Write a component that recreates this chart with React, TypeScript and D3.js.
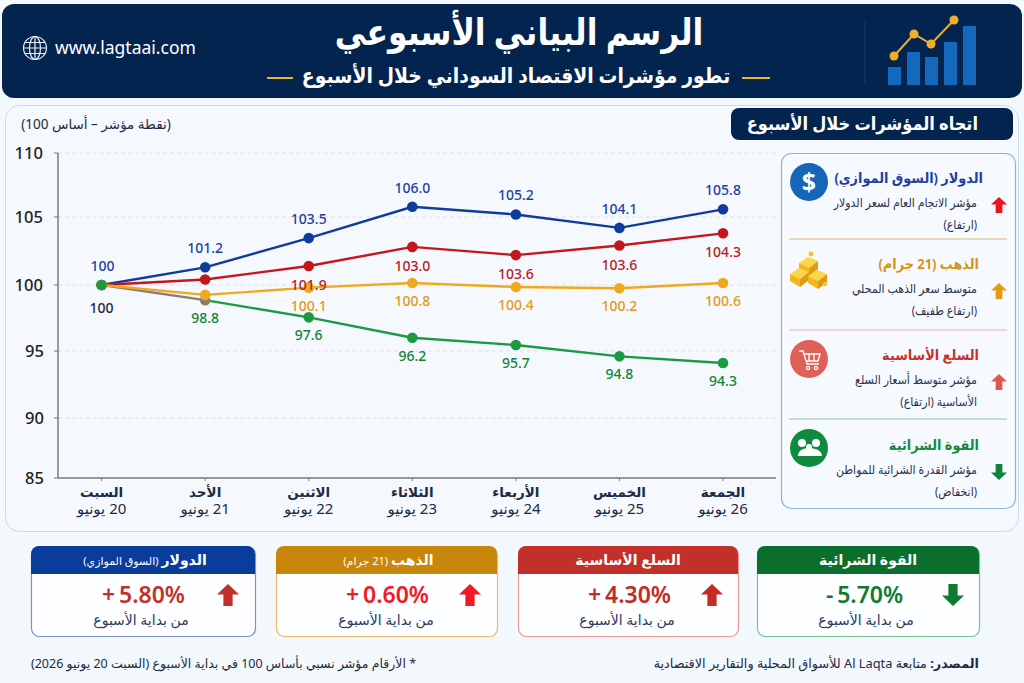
import React from 'react';
import * as d3 from 'd3';

const days = ['السبت','الأحد','الاثنين','الثلاثاء','الأربعاء','الخميس','الجمعة'];
const dates = ['20 يونيو','21 يونيو','22 يونيو','23 يونيو','24 يونيو','25 يونيو','26 يونيو'];
const yTicks = [85,90,95,100,105,110];
const dollar = [100,101.3,103.45,105.8,105.2,104.2,105.6];
const dollarLabels = ['100','101.2','103.5','106.0','105.2','104.1','105.8'];
const staples = [100,100.4,101.4,102.8,102.2,102.9,103.8];
const staplesLabels = ['','','101.9','103.0','103.6','103.6','104.3'];
const gold = [100,99.25,99.8,100.15,99.85,99.75,100.15];
const goldLabels = ['','','100.1','100.8','100.4','100.2','100.6'];
const power = [100,98.85,97.55,96,95.45,94.6,94.1];
const powerLabels = ['100','98.8','97.6','96.2','95.7','94.8','94.3'];

const F = "'Noto Sans','DejaVu Sans',sans-serif";
const NAVY = '#03244e';

const x = d3.scalePoint<number>().domain(d3.range(7)).range([101.6,723]);
const y = d3.scaleLinear().domain(yTicks).range([478,418,351,285,217,153]);
const path = (vals:number[], from=0) => d3.line<number>().x((_,i)=>x(i+from)!).y(d=>y(d))(vals)!;

function T({x,y,s,c='#1d2a44',w=400,a='middle',sx=1,children}:any){
  return <text transform={`translate(${x},${y}) scale(${sx},1)`} fontSize={s} fill={c} fontWeight={w} textAnchor={a} fontFamily={F}>{children}</text>;
}
function Arrow({cx,cy,s,c,down=false}:any){
  const p = 'M0,-1 L1,-0.05 L0.42,-0.05 L0.42,1 L-0.42,1 L-0.42,-0.05 L-1,-0.05 Z';
  return <path d={p} fill={c} transform={`translate(${cx},${cy}) scale(${s},${down?-s:s})`}/>;
}
function Brick({bx,by}:any){
  return <g transform={`translate(${bx},${by})`}>
    <path d="M0,6L9,0L19,4L10,11Z" fill="#fbd64a"/>
    <path d="M0,6L10,11L10,19L0,13Z" fill="#f2b71c"/>
    <path d="M10,11L19,4L19,12L10,19Z" fill="#e09c10"/>
  </g>;
}
const sideRows = [
  {t:'الدولار (السوق الموازي)',c:'#1f3fa5',l1:'مؤشر الاتجام العام لسعر الدولار',l2:'(ارتفاع)',a:'#f0111f',y:178,tx:983},
  {t:'الذهب (21 جرام)',c:'#d8921a',l1:'متوسط سعر الذهب المحلي',l2:'(ارتفاع طفيف)',a:'#e39a14',y:264,tx:979},
  {t:'السلع الأساسية',c:'#c9302c',l1:'مؤشر متوسط أسعار السلع',l2:'الأساسية (ارتفاع)',a:'#e0574c',y:355,tx:979},
  {t:'القوة الشرائية',c:'#138a3c',l1:'مؤشر القدرة الشرائية للمواطن',l2:'(انخفاض)',a:'#12813a',y:445,tx:979},
];
const cards = [
  {x:31,w:224,t:'الدولار',sub:'(السوق الموازي)',hc:'#0a3c9b',bc:'#7c8fd0',v:'5.80%',sign:'+',vc:'#c2302a',ac:'#c2302a',vx:184,ax:228,cx:141},
  {x:276,w:221,t:'الذهب',sub:'(21 جرام)',hc:'#c8860a',bc:'#e5bb6c',v:'0.60%',sign:'+',vc:'#f01a24',ac:'#f01a24',vx:428,ax:470,cx:386},
  {x:518,w:220,t:'السلع الأساسية',sub:'',hc:'#c3302a',bc:'#e79a94',v:'4.30%',sign:'+',vc:'#c62a25',ac:'#c62a25',vx:670,ax:712,cx:627},
  {x:757,w:222,t:'القوة الشرائية',sub:'',hc:'#0a6e2c',bc:'#7fbf98',v:'5.70%',sign:'-',vc:'#0f7a32',ac:'#0f7a32',vx:908,ax:953,cx:866},
];

export default function App(){
  return (
    <svg width={1024} height={683} viewBox="0 0 1024 683" direction="rtl" style={{position:'absolute',left:0,top:0,background:'#f3f8fd'}}>
      <rect x={2} y={4} width={1020} height={94} rx={12} fill={NAVY}/>
      <g transform="translate(35,48)" fill="none" stroke="#e8eef6" strokeWidth={1.2}>
        <circle r={11.5}/><ellipse rx={5.5} ry={11.5}/><path d="M0,-11.5V11.5M-11.5,0H11.5M-10,-5.5H10M-10,5.5H10"/>
      </g>
      <text x={55} y={54} fontSize={17.5} fill="#fff" fontFamily={F} direction="ltr" textAnchor="start">www.lagtaai.com</text>
      <T x={519} y={45} s={37} c="#fff" w={700} sx={0.85}>الرسم البياني الأسبوعي</T>
      <T x={516} y={83} s={21} c="#fff" w={600} sx={0.895}>تطور مؤشرات الاقتصاد السوداني خلال الأسبوع</T>
      <rect x={267} y={77} width={26} height={2} fill="#e6b72c"/>
      <rect x={742} y={77} width={28} height={2} fill="#e6b72c"/>
      <line x1={865} x2={865} y1={22} y2={84} stroke="#1c3d66"/>
      <g fill="#1569bd">
        <rect x={888} y={67} width={13} height={18}/><rect x={907} y={52} width={13} height={33}/><rect x={925} y={57} width={13} height={28}/><rect x={944} y={42} width={13} height={43}/><rect x={963} y={26} width={13} height={59}/>
      </g>
      <path d="M894,56L914,34L931,44L954,20" fill="none" stroke="#eeae2b" strokeWidth={2}/>
      <g fill="#eeae2b"><circle cx={894} cy={56} r={4.5}/><circle cx={914} cy={34} r={4.5}/><circle cx={931} cy={44} r={4.5}/><circle cx={954} cy={20} r={4.5}/></g>

      <rect x={5.5} y={105.5} width={1013} height={426} rx={14} fill="#f5f9fe" stroke="#c4dcf2"/>
      <rect x={731} y={108} width={282} height={32} rx={8} fill={NAVY}/>
      <T x={978} y={130} s={18} c="#fff" w={600} a="start" sx={0.9}>اتجاه المؤشرات خلال الأسبوع</T>
      <T x={96} y={129} s={13.5} c="#1d2a44">(نقطة مؤشر – أساس 100)</T>

      {yTicks.map(t=><g key={t}>
        {t>85 && <line x1={58} x2={776} y1={y(t)} y2={y(t)} stroke="#dde1e6" strokeDasharray="4 3"/>}
        <line x1={54} x2={58} y1={y(t)} y2={y(t)} stroke="#777"/>
        <text x={46} y={y(t)+6} textAnchor="start" direction="ltr" fontSize={16.5} fontWeight={500} fontFamily={F} fill="#222" transform={`translate(${-(String(t).length*10.5)},0)`}>{t}</text>
      </g>)}
      <line x1={58} x2={58} y1={153} y2={478} stroke="#666" strokeWidth={1.3}/>
      <line x1={58} x2={776} y1={478} y2={478} stroke="#777" strokeWidth={1.3}/>
      {days.map((d,i)=><g key={d}>
        <line x1={x(i)} x2={x(i)} y1={478} y2={481} stroke="#777"/>
        <T x={x(i)} y={497} s={13.5} c="#1d2a44" w={600}>{d}</T>
        <T x={x(i)} y={514} s={15} c="#1d2a44">{dates[i]}</T>
      </g>)}

      <path d={path(dollar)} fill="none" stroke="#0f3a9e" strokeWidth={2.4}/>
      <path d={path(staples)} fill="none" stroke="#c5161d" strokeWidth={2.4}/>
      <path d={path(power.slice(0,2))} fill="none" stroke="#8d7b7b" strokeWidth={2.4}/>
      <path d={path(power.slice(1),1)} fill="none" stroke="#1b9a44" strokeWidth={2.4}/>
      <circle cx={x(1)} cy={y(power[1])} r={5.3} fill="#8d7b6f"/>
      <path d={path(gold)} fill="none" stroke="#eeaa1c" strokeWidth={2.4}/>
      {dollar.map((v,i)=><circle key={i} cx={x(i)} cy={y(v)} r={5.3} fill="#0f3a9e"/>)}
      {staples.map((v,i)=><circle key={i} cx={x(i)} cy={y(v)} r={5.3} fill="#c5161d"/>)}
      {gold.map((v,i)=><circle key={i} cx={x(i)} cy={y(v)} r={5.3} fill="#eeaa1c"/>)}
      {power.map((v,i)=> i===1?null:<circle key={i} cx={x(i)} cy={y(v)} r={5.3} fill="#1b9a44"/>)}
      {dollarLabels.map((l,i)=><text key={i} x={x(i)+(i===0?1:0)} y={y(dollar[i])-14} textAnchor="middle" fontSize={14} fontWeight={500} fontFamily={F} fill="#1f3fa5" direction="ltr">{l}</text>)}
      {staplesLabels.map((l,i)=>l&&<text key={i} x={x(i)} y={y(staples[i])+24} textAnchor="middle" fontSize={14} fontWeight={500} fontFamily={F} fill="#b81c22" direction="ltr">{l}</text>)}
      {goldLabels.map((l,i)=>l&&<text key={i} x={x(i)} y={y(gold[i])+23} textAnchor="middle" fontSize={14} fontWeight={500} fontFamily={F} fill="#e29a16" direction="ltr">{l}</text>)}
      {powerLabels.map((l,i)=><text key={i} x={x(i)} y={y(power[i])+(i===0?28:23)} textAnchor="middle" fontSize={14} fontWeight={500} fontFamily={F} fill={i===0?'#1d2a44':'#128236'} direction="ltr">{l}</text>)}

      <rect x={781.5} y={153.5} width={234} height={355} rx={10} fill="#f6fafe" stroke="#8fb2de" strokeWidth={1.2}/>
      <line x1={789} x2={1007} y1={239} y2={239} stroke="#e0b868"/>
      <line x1={789} x2={1007} y1={330} y2={330} stroke="#eeb2ae"/>
      <line x1={789} x2={1007} y1={419} y2={419} stroke="#88c7a0"/>
      {sideRows.map(r=><g key={r.t}>
        <T x={r.tx} y={r.y+5} s={14} c={r.c} w={700} a="start" sx={0.92}>{r.t}</T>
        <T x={977} y={r.y+29} s={12.5} c="#2a3350" a="start" sx={0.88}>{r.l1}</T>
        <T x={977} y={r.y+51} s={12.5} c="#2a3350" a="start" sx={0.88}>{r.l2}</T>
        <Arrow cx={999} cy={r.y+27} s={8} c={r.a} down={r.t==='القوة الشرائية'}/>
      </g>)}
      <circle cx={809} cy={182} r={19} fill="#1565b8"/>
      <text x={809} y={191} textAnchor="middle" direction="ltr" fontSize={25} fontWeight={700} fill="#fff" fontFamily={F}>$</text>
      <Brick bx={799} by={257}/><Brick bx={790} by={268}/><Brick bx={808} by={270}/>
      <circle cx={811} cy={254} r={2.4} fill="#f5c22a"/>
      <circle cx={825} cy={284} r={2.2} fill="#f5c22a"/>
      <circle cx={809} cy={359} r={19} fill="#df6058"/>
      <g fill="none" stroke="#fff" strokeWidth={1.3}>
        <path d="M799,351h4l4,13h12M804,354h16l-2,7h-12M809,354v7M814,354v7"/><circle cx={808} cy={368} r={1.6}/><circle cx={816} cy={368} r={1.6}/>
      </g>
      <circle cx={809} cy={448} r={19} fill="#0f8a3f"/>
      <g fill="#fff">
        <circle cx={802} cy={443} r={4}/><circle cx={816} cy={443} r={4}/><circle cx={809} cy={447} r={3}/>
        <path d="M798,456c0,-6 6,-8 11,-8s13,2 13,8z"/>
      </g>

      {cards.map(c=><g key={c.x}>
        <rect x={c.x+.5} y={546.5} width={c.w} height={90} rx={8} fill="#fdfeff" stroke={c.bc} strokeWidth={1.2}/>
        <path d={`M${c.x},574V554a8,8 0 0 1 8,-8H${c.x+c.w-8}a8,8 0 0 1 8,8V574Z`} fill={c.hc}/>
        <text x={c.x+c.w/2+(c.sub?2:0)} y={565} textAnchor="middle" fontFamily={F} fill="#fff">
          <tspan fontSize={14} fontWeight={700}>{c.t}</tspan>{c.sub && <tspan fontSize={11}> {c.sub}</tspan>}
        </text>
        <text x={c.vx-82} y={603} textAnchor="start" direction="ltr" fontSize={23} fontWeight={600} fontFamily={F} fill={c.vc}>{c.sign}{'\u2009'}{c.v}</text>
        <T x={c.cx} y={625} s={14} c="#2a3a66">من بداية الأسبوع</T>
        <Arrow cx={c.ax} cy={595} s={11} c={c.ac} down={c.sign==='-'}/>
      </g>)}

      <text x={979} y={668} textAnchor="start" fontFamily={F} fontSize={12.8} fill="#1d2a44"><tspan fontWeight={700}>المصدر:</tspan> متابعة Al Laqta للأسواق المحلية والتقارير الاقتصادية</text>
      <T x={223.5} y={668} s={12.5} c="#1d2a44">* الأرقام مؤشر نسبي بأساس 100 في بداية الأسبوع (السبت 20 يونيو 2026)</T>
    </svg>
  );
}
